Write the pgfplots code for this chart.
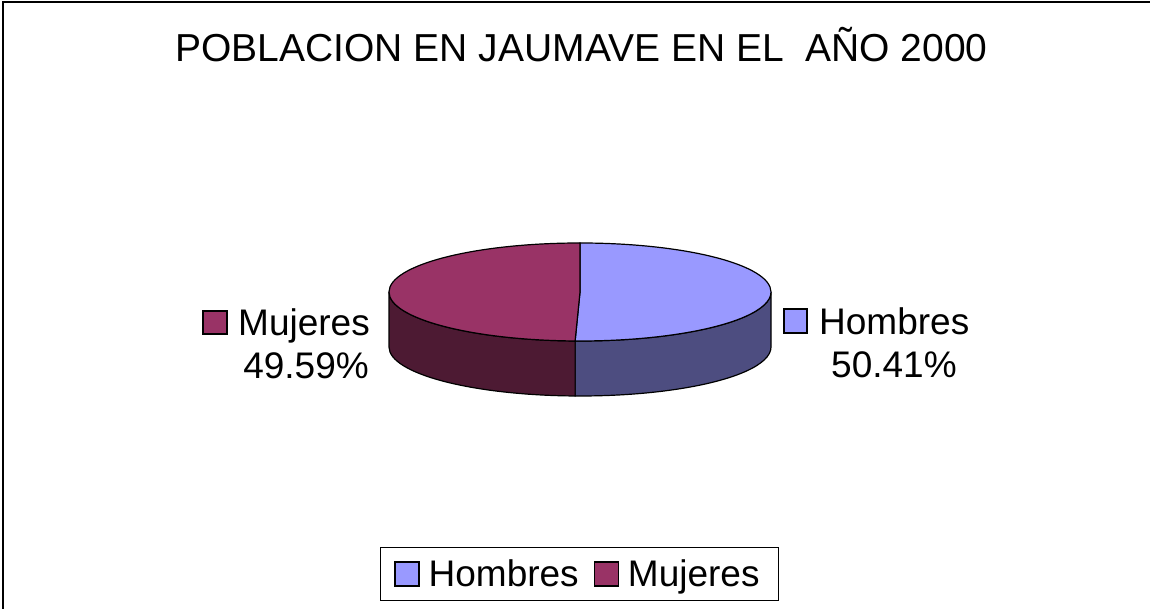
\documentclass[border=0pt]{standalone}
\usepackage{pgfplots}
\usepackage{pgfplotstable}
\pgfplotsset{compat=1.18}
\usepackage{fontspec}
\setmainfont{Liberation Sans}
\definecolor{homtop}{HTML}{9999FF}
\definecolor{homside}{HTML}{4D4D80}
\definecolor{mujtop}{HTML}{993366}
\definecolor{mujside}{HTML}{4D1A33}

\pgfplotstableread{
label value
Hombres 50.41
Mujeres 49.59
}\pietable

\newcommand\lab{\fontsize{37}{44}\selectfont}

\begin{document}
\begin{tikzpicture}
\pgfplotstablegetelem{0}{value}\of\pietable
\let\vh\pgfplotsretval
\pgfplotstablegetelem{1}{value}\of\pietable
\let\vm\pgfplotsretval
\pgfmathsetmacro\frac{\vh/(\vh+\vm)}
\pgfmathsetmacro\aend{90-360*\frac}
\pgfmathsetmacro\bend{\aend+360}
\begin{axis}[
  x=1pt, y=1pt, xmin=0, xmax=1150, ymin=0, ymax=609,
  hide axis, clip=false,
  legend image code/.code={\draw[#1] (0pt,-12pt) rectangle (24pt,12pt);},
  legend columns=2,
  legend style={at={(axis description cs:0.5039,0.0575)}, anchor=center,
    draw=black, line width=1pt, font=\lab, inner xsep=14pt, inner ysep=10.5pt,
    nodes={inner xsep=5pt, inner ysep=2pt},
    /tikz/every odd column/.append style={column sep=4pt},
    /tikz/every even column/.append style={column sep=10pt}},
]
\addlegendimage{fill=homtop, draw=black, line width=1.2pt}
\addlegendentry{Hombres}
\addlegendimage{fill=mujtop, draw=black, line width=1.2pt}
\addlegendentry{Mujeres}

% frame
\draw[line width=1.5pt] (axis cs:3,0) -- (axis cs:3,607) -- (axis cs:1150,607);

% sides
\fill[homside, draw=black, line width=1.2pt] (axis cs:580,317) ++(\aend:191pt and 49pt)
  arc[start angle=\aend, end angle=0, x radius=191pt, y radius=49pt]
  -- ++(0pt,-55pt)
  arc[start angle=0, end angle=\aend, x radius=191pt, y radius=49pt] -- cycle;
\fill[mujside, draw=black, line width=1.2pt] (axis cs:580,317) ++(180:191pt and 49pt)
  arc[start angle=180, end angle=\bend, x radius=191pt, y radius=49pt]
  -- ++(0pt,-55pt)
  arc[start angle=\bend, end angle=180, x radius=191pt, y radius=49pt] -- cycle;
% tops
\fill[homtop, draw=black, line width=1.2pt] (axis cs:580,317) -- ++(0pt,49pt)
  arc[start angle=90, end angle=\aend, x radius=191pt, y radius=49pt] -- cycle;
\fill[mujtop, draw=black, line width=1.2pt] (axis cs:580,317) -- ++(0pt,49pt)
  arc[start angle=90, end angle=\bend, x radius=191pt, y radius=49pt] -- cycle;

% title
\node[font=\fontsize{39}{46}\selectfont, inner sep=0pt, anchor=base] at (axis cs:581.5,547) {POBLACION EN JAUMAVE EN EL\ \ AÑO 2000};

% data labels
\draw[fill=mujtop, line width=1.2pt] (axis cs:203,275) rectangle (axis cs:227,298);
\node[font=\lab, inner sep=0pt, anchor=base west] at (axis cs:238,273) {Mujeres};
\node[font=\lab, inner sep=0pt, anchor=base east] at (axis cs:369,230) {49.59\%};
\draw[fill=homtop, line width=1.2pt] (axis cs:784,276) rectangle (axis cs:807,300);
\node[font=\lab, inner sep=0pt, anchor=base west] at (axis cs:819,274) {Hombres};
\node[font=\lab, inner sep=0pt, anchor=base west] at (axis cs:831,231) {50.41\%};
\end{axis}
\pgfresetboundingbox
\path[use as bounding box] (0,0) rectangle (1150pt,609pt);
\end{tikzpicture}
\end{document}
